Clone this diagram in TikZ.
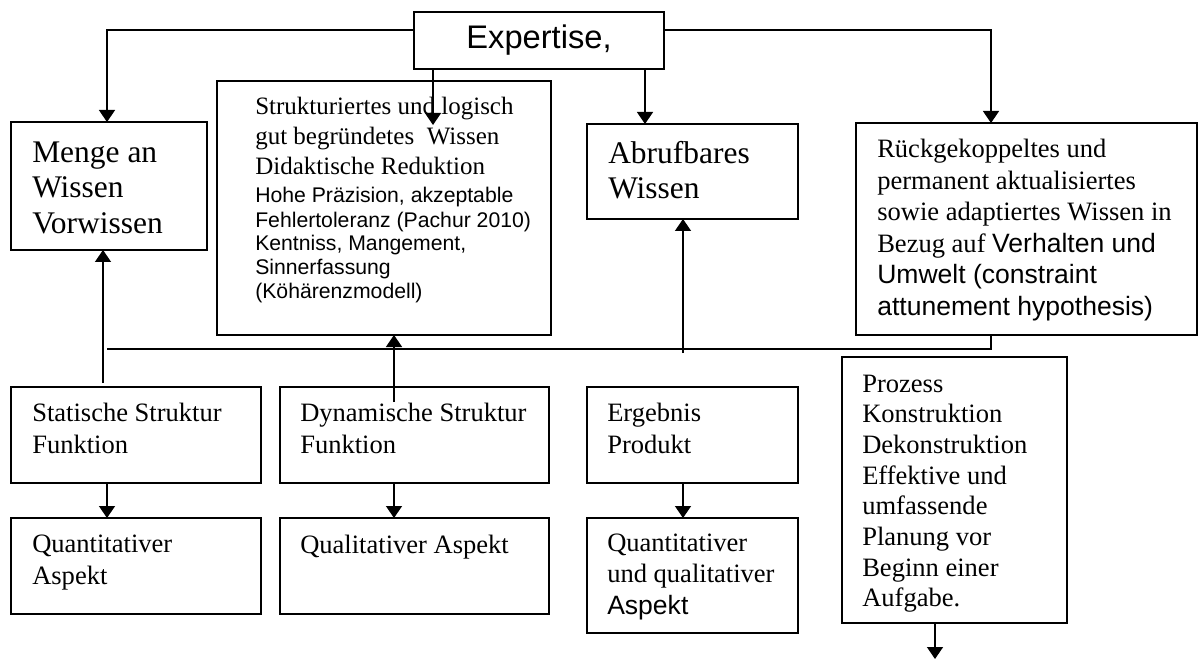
\documentclass[tikz,border=0pt]{standalone}
\usepackage{fontspec}
\setmainfont{Liberation Serif}
\setsansfont{Liberation Sans}
\usetikzlibrary{arrows.meta}

\begin{document}
\begin{tikzpicture}[
    x=0.75pt,y=-0.75pt,
    box/.style={draw,line width=1.2pt,anchor=north west,inner sep=0pt,outer sep=0pt},
    txt/.style={anchor=base west,inner sep=0pt,align=left,font=\fontsize{19.9}{23.3}\selectfont},
    bigtxt/.style={txt,font=\fontsize{23.6}{26.8}\selectfont},
    line/.style={line width=1.1pt},
    arr/.style={line,-{Triangle[length=9pt,width=12pt]}}
  ]
    \useasboundingbox (0,0) rectangle (1199,659);
    \node[box,anchor=center,minimum width=187.5pt,minimum height=42.75pt,font=\sffamily\fontsize{24.5}{28}\selectfont] (expertise) at (539,40.5) {Expertise,};
    \node[box,minimum width=147pt,minimum height=96pt] (menge) at (11,122) {};
    \node[box,minimum width=250.5pt,minimum height=190.5pt] (struct) at (217,81) {};
    \node[box,minimum width=158.25pt,minimum height=71.25pt] (abruf) at (587,124) {};
    \node[box,minimum width=255.75pt,minimum height=159pt] (rueck) at (856,123) {};
    \node[box,minimum width=187.5pt,minimum height=72pt] (stat) at (11,387) {};
    \node[box,minimum width=201.75pt,minimum height=72pt] (dyn) at (280,387) {};
    \node[box,minimum width=158.25pt,minimum height=72pt] (erg) at (587,387) {};
    \node[box,minimum width=187.5pt,minimum height=72pt] (quant) at (11,518) {};
    \node[box,minimum width=201.75pt,minimum height=72pt] (qual) at (280,518) {};
    \node[box,minimum width=158.25pt,minimum height=86.25pt] (quantqual) at (587,518) {};
    \node[box,minimum width=168.75pt,minimum height=199.5pt] (prozess) at (842,357) {};

    \node[bigtxt] (menge-t) at (32,233.5) {Menge an\\Wissen\\Vorwissen};
    \node[txt,font=\fontsize{18.75}{22.5}\selectfont] (struct-t) at (255,175) {Strukturiertes und logisch\\gut begründetes\ \ Wissen\\Didaktische Reduktion};
    \node[txt,font=\sffamily\fontsize{15.9}{18}\selectfont] (struct-s) at (255,299) {Hohe Präzision, akzeptable\\Fehlertoleranz (Pachur 2010)\\Kentniss, Mangement,\\Sinnerfassung\\(Köhärenzmodell)};
    \node[bigtxt] (abruf-t) at (608,199) {Abrufbares\\Wissen};
    \node[txt,font=\fontsize{19.9}{23.6}\selectfont] (rueck-t) at (877,315.3) {Rückgekoppeltes und\\permanent aktualisiertes\\sowie adaptiertes Wissen in\\Bezug auf {\sffamily Verhalten und}\\{\sffamily Umwelt (constraint}\\{\sffamily attunement hypothesis)}};
    \node[txt] (stat-t) at (32,453) {Statische Struktur\\Funktion};
    \node[txt] (dyn-t) at (300,453) {Dynamische Struktur\\Funktion};
    \node[txt] (erg-t) at (607,453) {Ergebnis\\Produkt};
    \node[txt] (quant-t) at (32,584) {Quantitativer\\Aspekt};
    \node[txt] (qual-t) at (300,553) {Qualitativer Aspekt};
    \node[txt] (quantqual-t) at (607,614) {Quantitativer\\und qualitativer\\{\sffamily Aspekt}};
    \node[txt,font=\fontsize{19.9}{23}\selectfont] (prozess-t) at (862,606.7) {Prozess\\Konstruktion\\Dekonstruktion\\Effektive und\\umfassende\\Planung vor\\Beginn einer\\Aufgabe.};

    \coordinate (structin) at (433,125);
    \coordinate (busl) at (107,349);
    \coordinate (statl) at (103,383);
    \coordinate (dynl) at (394,402);
    \coordinate (abrl) at (683,353);
    \coordinate (prozend) at (935,659);

    \draw[arr] (expertise.west |- 0,30) -| (menge.north -| 107,0);
    \draw[arr] (expertise.east |- 0,30) -| (rueck.north -| 991,0);
    \draw[arr] (expertise.south -| structin) -- (structin);
    \draw[arr] (expertise.south -| 645,0) -- (abruf.north -| 645,0);
    \draw[line] (rueck.south -| 991,0) |- (busl);
    \draw[arr] (statl) -- (menge.south -| statl);
    \draw[arr] (dynl) -- (struct.south -| dynl);
    \draw[arr] (abrl) -- (abruf.south -| abrl);
    \draw[arr] (stat.south -| 107,0) -- (quant.north -| 107,0);
    \draw[arr] (dyn.south -| dynl) -- (qual.north -| dynl);
    \draw[arr] (erg.south -| abrl) -- (quantqual.north -| abrl);
    \draw[arr] (prozess.south -| prozend) -- (prozend);
  \end{tikzpicture}
\end{document}
